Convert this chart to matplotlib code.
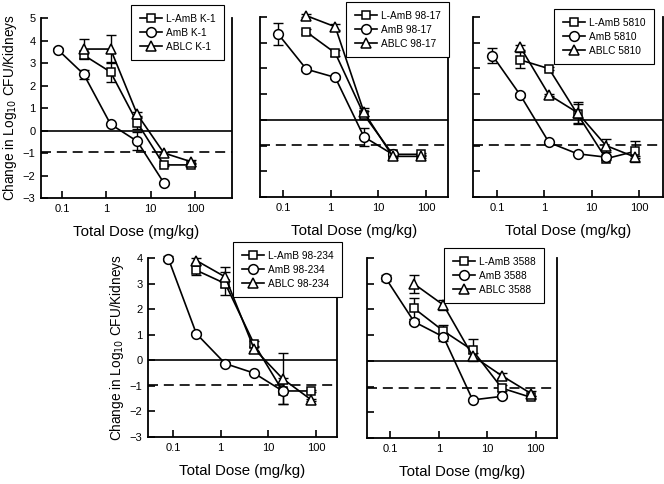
import matplotlib
matplotlib.use("Agg")
import matplotlib.pyplot as plt
from matplotlib.ticker import FixedLocator, NullLocator, NullFormatter

plt.rcParams['font.family'] = ['Liberation Sans', 'DejaVu Sans']

W, H = 664, 484

# Doses (mg/kg)
dose_lipid = [0.31, 1.25, 5, 20, 80]
dose_amb = [0.08, 0.31, 1.25, 5, 20]

# Panel data: change in log10 CFU/kidneys
strains = ["K-1", "98-17", "5810", "98-234", "3588"]

lamb_vals = [
    [3.35, 2.6, 0.35, -1.53, -1.53],
    [3.42, 2.6, 0.2, -1.34, -1.34],
    [2.33, 1.99, 0.22, -1.51, -1.23],
    [3.52, 3.0, 0.65, -1.2, -1.2],
    [2.04, 1.16, 0.41, -1.06, -1.42],
]
lamb_err = [
    [0.12, 0.45, 0.3, 0.05, 0.05],
    [0.1, 0.1, 0.15, 0.05, 0.05],
    [0.3, 0.05, 0.4, 0.05, 0.4],
    [0.2, 0.45, 0.12, 0.5, 0.05],
    [0.4, 0.25, 0.43, 0.12, 0.05],
]
amb_vals = [
    [3.6, 2.5, 0.28, -0.48, -2.33],
    [3.33, 1.97, 1.65, -0.66, -1.34],
    [2.5, 0.96, -0.88, -1.32, -1.45],
    [3.98, 1.04, -0.13, -0.5, -1.2],
    [3.22, 1.52, 0.93, -1.52, -1.38],
]
amb_err = [
    [0.05, 0.2, 0.05, 0.4, 0.05],
    [0.42, 0.08, 0.05, 0.35, 0.05],
    [0.3, 0.08, 0.05, 0.05, 0.05],
    [0.1, 0.05, 0.05, 0.05, 0.05],
    [0.12, 0.1, 0.15, 0.05, 0.05],
]
ablc_vals = [
    [3.62, 3.62, 0.72, -1.0, -1.38],
    [4.05, 3.62, 0.3, -1.42, -1.42],
    [2.83, 0.97, 0.28, -1.0, -1.44],
    [3.9, 3.26, 0.46, -0.72, -1.55],
    [2.99, 2.17, 0.19, -0.58, -1.27],
]
ablc_err = [
    [0.45, 0.62, 0.12, 0.05, 0.05],
    [0.05, 0.12, 0.15, 0.05, 0.05],
    [0.1, 0.05, 0.4, 0.25, 0.05],
    [0.1, 0.38, 0.1, 1.0, 0.05],
    [0.36, 0.2, 0.1, 0.1, 0.1],
]
dashed_level = [-0.96, -0.98, -0.97, -0.96, -1.07]

yticks_list = [list(range(-3, 6)), list(range(-3, 5)), list(range(-3, 5)),
               list(range(-3, 5)), list(range(-3, 5))]
ylims = [(-3, 5), (-3, 4), (-3, 4), (-3, 4), (-3, 4)]
xlims = [(0.0336, 690), (0.033, 290), (0.031, 320), (0.030, 276), (0.033, 275)]
show_ylabels = [True, False, False, True, False]

# pixel boxes: left, right, top, bottom
boxes = [(41, 232, 18, 198), (260, 448, 17, 197), (473, 663, 17, 197),
         (148, 337, 258, 437), (367, 557, 258, 438)]
# legend top-left corners (pixels)
leg_pos = [(131, 5), (346, 2), (554, 9), (233, 242), (444, 248)]

fig = plt.figure(figsize=(W / 100, H / 100), dpi=100)

mk = dict(markerfacecolor='white', markeredgecolor='black', markeredgewidth=1.1,
          markersize=6.5, color='black', linewidth=1.2)

for i in range(5):
    l, r, t, b = boxes[i]
    ax = fig.add_axes([l / W, 1 - b / H, (r - l) / W, (b - t) / H])
    ax.set_xscale('log')
    ax.set_xlim(*xlims[i])
    ax.set_ylim(*ylims[i])
    for s in ['left', 'right', 'bottom']:
        ax.spines[s].set_linewidth(1.3)
    ax.spines['top'].set_visible(False)
    ax.axhline(0, color='black', lw=1.2, zorder=1)
    ax.axhline(dashed_level[i], color='black', lw=1.2, dashes=(6, 3.5), zorder=1)

    series = [
        ("L-AmB", dose_lipid, lamb_vals[i], lamb_err[i], 's', 6.3),
        ("AmB", dose_amb, amb_vals[i], amb_err[i], 'o', 7.0),
        ("ABLC", dose_lipid, ablc_vals[i], ablc_err[i], '^', 7.2),
    ]
    handles = []
    for name, xs, ys, es, m, ms in series:
        ax.errorbar(xs, ys, yerr=es, fmt='none', ecolor='black', elinewidth=1.0,
                    capsize=3.5, capthick=1.0, zorder=2, clip_on=False)
        kw = dict(mk)
        kw['markersize'] = ms
        h, = ax.plot(xs, ys, marker=m, label=f"{name} {strains[i]}", zorder=3,
                     clip_on=False, **kw)
        handles.append(h)

    ax.xaxis.set_major_locator(FixedLocator([0.1, 1, 10, 100]))
    ax.xaxis.set_minor_locator(NullLocator())
    ax.set_xticklabels(['0.1', '1', '10', '100'])
    ax.set_yticks(yticks_list[i])
    ax.tick_params(direction='in', length=5, width=1.2, labelsize=8, pad=4)
    if show_ylabels[i]:
        ax.set_ylabel(r"Change in Log$_{10}$ CFU/Kidneys", fontsize=9.8, labelpad=3)
    else:
        ax.yaxis.set_major_formatter(NullFormatter())
    ax.set_xlabel("Total Dose (mg/kg)", fontsize=10.8, labelpad=8)

    lx, ly = leg_pos[i]
    leg = ax.legend(handles=handles, loc='upper left',
                    bbox_to_anchor=(lx / W, 1 - ly / H), bbox_transform=fig.transFigure,
                    fontsize=7.3, frameon=True, fancybox=False, edgecolor='black',
                    framealpha=1, handlelength=2.2, handletextpad=0.4,
                    borderpad=0.85, labelspacing=0.4, borderaxespad=0)
    leg.get_frame().set_linewidth(0.8)
    leg.set_zorder(5)

fig.savefig("out.png", dpi=100)
